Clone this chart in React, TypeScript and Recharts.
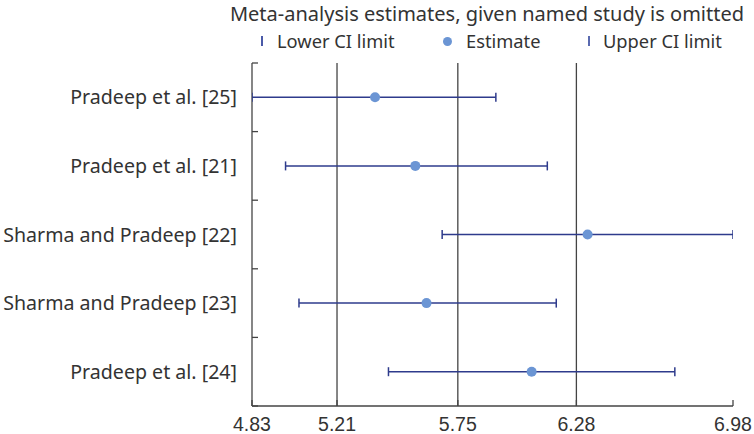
import React from 'react';
import { ScatterChart, Scatter, XAxis, YAxis, ErrorBar, ReferenceLine } from 'recharts';

const studies = [
  'Pradeep et al. [25]',
  'Pradeep et al. [21]',
  'Sharma and Pradeep [22]',
  'Sharma and Pradeep [23]',
  'Pradeep et al. [24]',
];
const estimates = [5.38, 5.56, 6.33, 5.61, 6.08];
const lowerCI = [4.83, 4.98, 5.68, 5.04, 5.44];
const upperCI = [5.92, 6.15, 6.98, 6.19, 6.72];
const xTicks = [4.83, 5.21, 5.75, 6.28, 6.98];
const gridValues = [5.21, 5.75, 6.28];
const seriesNames = ['Lower CI limit', 'Estimate', 'Upper CI limit'];
const title = 'Meta-analysis estimates, given named study is omitted';

const yTicks = Array.from({ length: studies.length * 2 + 1 }, (_, i) => i / 2);

const estData = studies.map((s, i) => ({
  name: s,
  x: estimates[i],
  y: i + 0.5,
  err: [estimates[i] - lowerCI[i], upperCI[i] - estimates[i]],
}));
const lowData = studies.map((s, i) => ({ name: s, x: lowerCI[i], y: i + 0.5 }));
const upData = studies.map((s, i) => ({ name: s, x: upperCI[i], y: i + 0.5 }));

const NAVY = '#2e3b8c';
const DOT = '#6b95d4';
const AXIS = '#444';
const TEXT = '#333';
const FONT = '"Noto Sans", sans-serif';

const CapShape = (props: any) => {
  const { cx, cy } = props;
  return <line x1={cx} x2={cx} y1={cy - 4.5} y2={cy + 4.5} stroke={NAVY} strokeWidth={1.5} />;
};

const DotShape = (props: any) => {
  const { cx, cy } = props;
  return <circle cx={cx} cy={cy} r={5} fill={DOT} />;
};

const XTick = (props: any) => {
  const { x, y, payload } = props;
  return (
    <g>
      <line x1={x} x2={x} y1={y} y2={y - 6} stroke={AXIS} strokeWidth={1.3} />
      <text x={x} y={y + 25} textAnchor="middle" fill={TEXT} fontSize={19.5} fontFamily='"Liberation Sans", Arial, sans-serif'>
        {payload.value.toFixed(2)}
      </text>
    </g>
  );
};

const YTick = (props: any) => {
  const { x, y, payload } = props;
  const v = payload.value;
  if (Number.isInteger(v)) {
    return <line x1={x} x2={x + 6} y1={y} y2={y} stroke={AXIS} strokeWidth={1.3} />;
  }
  return (
    <text x={x - 15} y={y} dy="0.36em" textAnchor="end" fill={TEXT} fontSize={19.6} fontFamily={FONT}>
      {studies[Math.floor(v)]}
    </text>
  );
};

const legendPos = [
  { marker: 262, text: 277 },
  { marker: 447, text: 466 },
  { marker: 589, text: 603 },
];

export default function App() {
  return (
    <div style={{ position: 'absolute', left: 0, top: 0, width: 754, height: 434, background: '#fff' }}>
      <ScatterChart width={754} height={434} margin={{ top: 63, right: 21, bottom: 0, left: 0 }}>
        <XAxis
          type="number"
          dataKey="x"
          domain={[xTicks[0], xTicks[xTicks.length - 1]]}
          ticks={xTicks}
          interval={0}
          allowDataOverflow
          height={28}
          tickLine={false}
          tickSize={0}
          tickMargin={0}
          axisLine={{ stroke: AXIS, strokeWidth: 1.3 }}
          tick={<XTick />}
        />
        <YAxis
          type="number"
          dataKey="y"
          domain={[0, studies.length]}
          reversed
          ticks={yTicks}
          interval={0}
          width={252}
          tickLine={false}
          tickSize={0}
          tickMargin={0}
          axisLine={{ stroke: AXIS, strokeWidth: 1.3 }}
          tick={<YTick />}
        />
        {gridValues.map((v) => (
          <ReferenceLine key={v} x={v} stroke={AXIS} strokeWidth={1.3} />
        ))}
        <Scatter name={seriesNames[1]} data={estData} fill={DOT} shape={<DotShape />} isAnimationActive={false}>
          <ErrorBar dataKey="err" direction="x" width={0} stroke={NAVY} strokeWidth={1.5} />
        </Scatter>
        <Scatter name={seriesNames[0]} data={lowData} shape={<CapShape />} isAnimationActive={false} />
        <Scatter name={seriesNames[2]} data={upData} shape={<CapShape />} isAnimationActive={false} />
      </ScatterChart>
      <div
        style={{
          position: 'absolute',
          left: 0,
          width: 974,
          top: 1,
          textAlign: 'center',
          fontFamily: FONT,
          fontSize: 20,
          color: TEXT,
          whiteSpace: 'nowrap',
          lineHeight: '26px',
        }}
      >
        {title}
      </div>
      {seriesNames.map((n, i) => (
        <div key={n}>
          {i === 1 ? (
            <div
              style={{
                position: 'absolute',
                left: legendPos[i].marker - 4.5,
                top: 36.5,
                width: 9,
                height: 9,
                borderRadius: '50%',
                background: DOT,
              }}
            />
          ) : (
            <div
              style={{
                position: 'absolute',
                left: legendPos[i].marker - 0.75,
                top: 36,
                width: 1.5,
                height: 10,
                background: i === 0 ? '#4a5aa8' : '#5a6ab0',
              }}
            />
          )}
          <div
            style={{
              position: 'absolute',
              left: legendPos[i].text,
              top: 28,
              fontFamily: FONT,
              fontSize: 18.3,
              color: TEXT,
              whiteSpace: 'nowrap',
              lineHeight: '26px',
            }}
          >
            {n}
          </div>
        </div>
      ))}
    </div>
  );
}
